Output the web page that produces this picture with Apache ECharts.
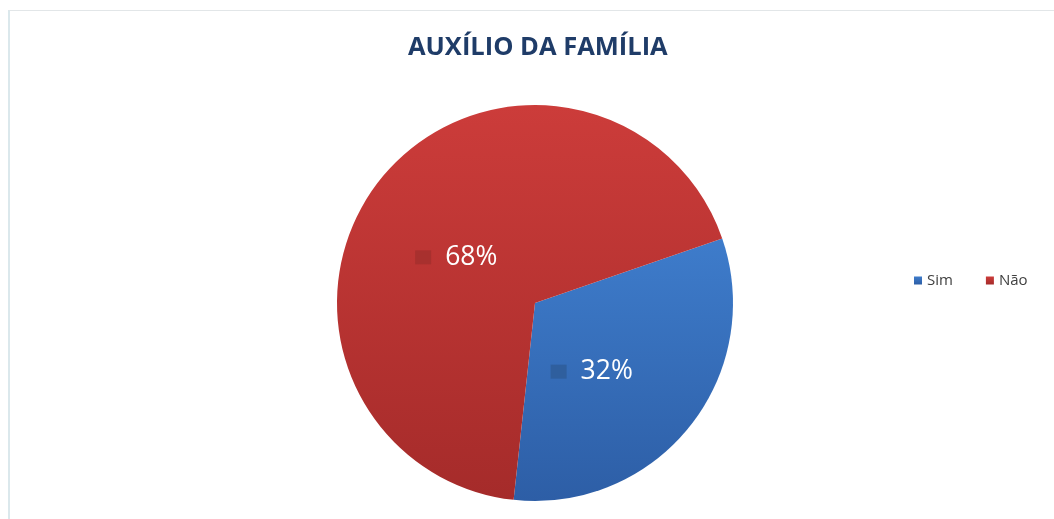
<!DOCTYPE html>
<html>
<head>
<meta charset="utf-8">
<script src="https://cdn.jsdelivr.net/npm/echarts@6/dist/echarts.min.js"></script>
<style>
  html, body { margin: 0; padding: 0; background: #ffffff; }
  #frame {
    position: absolute; left: 8px; top: 10px; width: 1060px; height: 520px;
    border-left: 2px solid #dbe8ec; border-top: 1px solid #e2e6e8;
    box-sizing: border-box;
  }
  #chart { position: absolute; left: 0; top: 0; width: 1054px; height: 519px; }
</style>
</head>
<body>
<div id="frame"></div>
<div id="chart"></div>
<script>
// Answers and their shares (%)
const categories = ['Sim', 'Não'];
const values = [32, 68];
const titleText = 'AUXÍLIO DA FAMÍLIA';

// Slice shading: light top, darker bottom
const sliceColors = [
  { top: '#3e7ccb', bottom: '#2d5ea6', key: '#2f5f9e', legend: '#3a70bd' },
  { top: '#cc3c3a', bottom: '#a52b2a', key: '#a8302e', legend: '#c4393a' }
];

// Small nudges for the in-slice labels
const labelNudge = [{ dx: -23, dy: 5 }, { dx: 1, dy: 18 }];

const chart = echarts.init(document.getElementById('chart'), null, { renderer: 'canvas' });

const data = categories.map((name, i) => ({
  name,
  value: values[i],
  itemStyle: {
    color: new echarts.graphic.LinearGradient(0, 0, 0, 1, [
      { offset: 0, color: sliceColors[i].top },
      { offset: 1, color: sliceColors[i].bottom }
    ])
  },
  label: {
    rich: {
      box: {
        width: 16, height: 14,
        backgroundColor: sliceColors[i].key
      }
    }
  }
}));

chart.setOption({
  animation: false,
  backgroundColor: 'transparent',
  title: {
    text: titleText,
    left: 403,
    top: 30,
    textStyle: {
      fontFamily: 'Open Sans',
      fontWeight: 'bold',
      fontSize: 25.5,
      color: '#1f3c68'
    }
  },
  color: sliceColors.map(c => c.legend),
  legend: {
    data: categories,
    orient: 'horizontal',
    left: 909,
    top: 268,
    itemWidth: 8,
    itemHeight: 8,
    itemGap: 33,
    icon: 'rect',
    textStyle: { fontFamily: 'Open Sans', fontSize: 15, color: '#404040' }
  },
  series: [{
    type: 'pie',
    center: [535, 303],
    radius: 198,
    startAngle: 19,
    clockwise: true,
    data,
    itemStyle: { borderWidth: 0 },
    label: {
      show: true,
      position: 'inside',
      formatter: p => '{box|}{gap|}{val|' + p.value + '%}',
      rich: {
        gap: { width: 14 },
        val: {
          fontFamily: 'Open Sans',
          fontSize: 26.5,
          color: '#ffffff'
        }
      }
    },
    labelLayout: params => labelNudge[params.dataIndex],
    labelLine: { show: false },
    emphasis: { disabled: true }
  }]
});
</script>
</body>
</html>
